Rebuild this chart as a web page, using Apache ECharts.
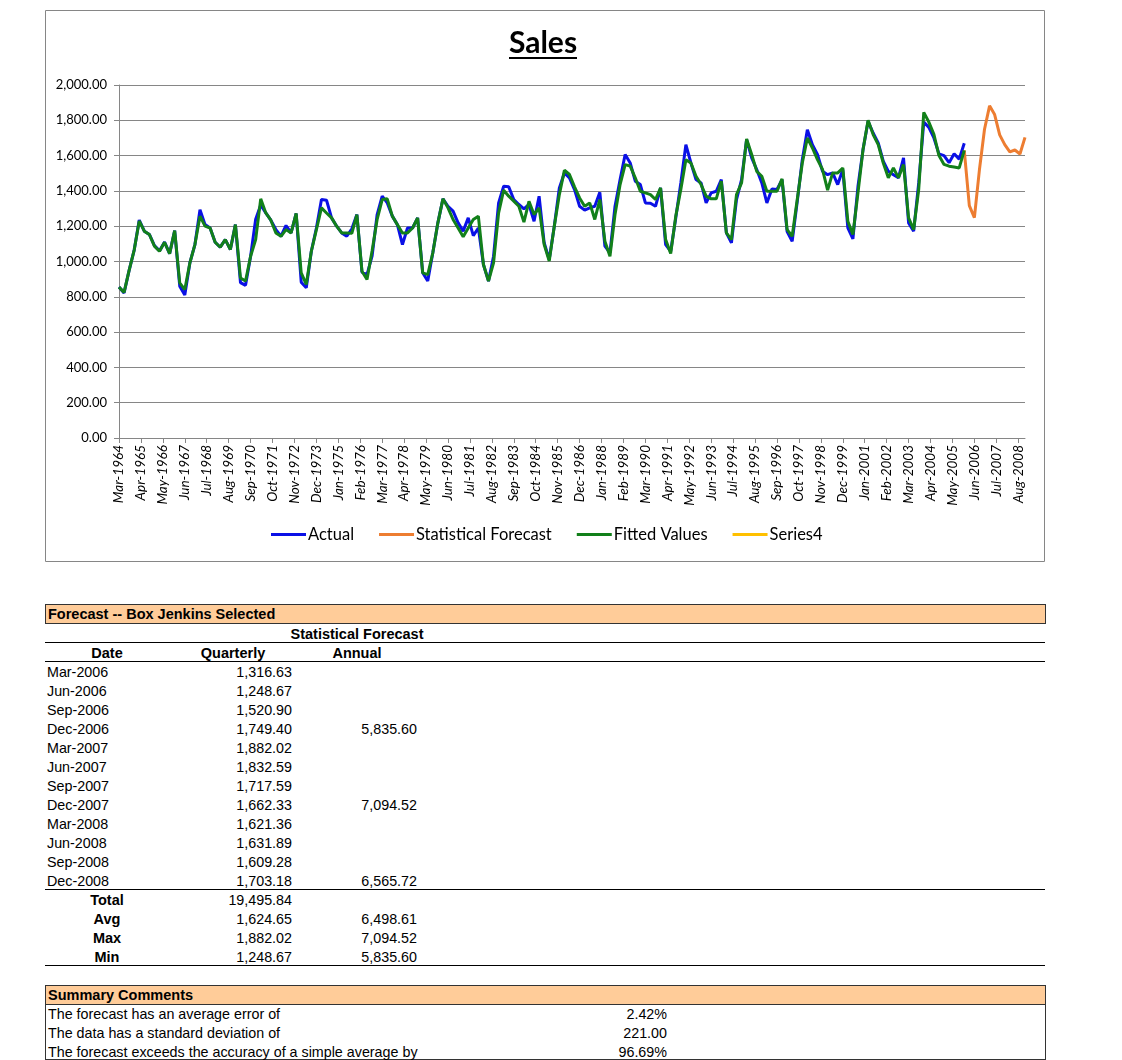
<!DOCTYPE html>
<html><head><meta charset="utf-8">
<script src="https://cdn.jsdelivr.net/npm/echarts@6/dist/echarts.min.js"></script>
<style>
html,body{margin:0;padding:0;background:#fff;}
body{width:1122px;height:1060px;overflow:hidden;position:relative;font-family:"Liberation Sans",Arial,sans-serif;font-size:14.3px;color:#000;}
#chart{position:absolute;left:0;top:0;width:1122px;height:570px;}
.t{position:absolute;height:19px;line-height:19px;white-space:nowrap;}
.b{font-weight:bold;font-size:14.5px;}
.hl{position:absolute;left:45px;width:1000px;height:1px;background:#000;}
</style>
</head><body>
<div id="chart"></div>
<div id="tbl"></div>
<script>
// ---------- DATA ----------
const actualStart = 'Mar-1964';
const axisEnd = 'Dec-2008';
const xTickLabels = ['Mar-1964','Apr-1965','May-1966','Jun-1967','Jul-1968','Aug-1969','Sep-1970','Oct-1971','Nov-1972','Dec-1973','Jan-1975','Feb-1976','Mar-1977','Apr-1978','May-1979','Jun-1980','Jul-1981','Aug-1982','Sep-1983','Oct-1984','Nov-1985','Dec-1986','Jan-1988','Feb-1989','Mar-1990','Apr-1991','May-1992','Jun-1993','Jul-1994','Aug-1995','Sep-1996','Oct-1997','Nov-1998','Dec-1999','Jan-2001','Feb-2002','Mar-2003','Apr-2004','May-2005','Jun-2006','Jul-2007','Aug-2008'];
const yTicks = [0,200,400,600,800,1000,1200,1400,1600,1800,2000];

// quarterly actuals, Mar-1964 .. Dec-2005
const actual = [855,822,950,1065,1235,1172,1153,1090,1060,1110,1045,1175,860,810,992,1096,1294,1209,1190,1109,
1081,1124,1068,1209,880,865,1030,1240,1320,1275,1234,1181,1143,1204,1162,1272,883,851,1058,1190,
1351,1347,1247,1200,1162,1143,1185,1266,940,926,1030,1266,1370,1332,1257,1209,1096,1190,1190,1247,
936,889,1049,1219,1355,1313,1285,1219,1172,1247,1147,1190,983,889,1030,1332,1426,1423,1351,1323,
1298,1323,1228,1370,1106,1011,1200,1417,1502,1474,1407,1313,1291,1304,1313,1392,1087,1049,1313,1464,
1606,1558,1455,1436,1332,1330,1313,1417,1096,1058,1247,1445,1662,1558,1464,1445,1332,1389,1398,1464,
1162,1106,1351,1464,1691,1587,1521,1445,1332,1411,1408,1464,1170,1115,1340,1577,1747,1662,1606,1511,
1492,1502,1436,1521,1190,1128,1426,1634,1794,1728,1672,1568,1511,1492,1474,1587,1219,1172,1445,1790,
1760,1700,1610,1600,1560,1610,1580,1670];

// fitted values, Mar-1964 .. Dec-2005
const fitted = [855,825,950,1065,1230,1172,1153,1087,1058,1109,1045,1175,879,841,992,1096,1257,1200,1190,1109,
1081,1124,1068,1209,907,889,1030,1124,1355,1275,1234,1162,1143,1181,1162,1272,936,870,1058,1180,
1304,1275,1247,1200,1162,1162,1160,1266,945,898,1060,1238,1351,1355,1257,1209,1162,1162,1190,1247,
936,926,1049,1219,1355,1304,1238,1190,1140,1190,1238,1257,983,889,992,1275,1404,1370,1342,1313,
1223,1341,1266,1304,1096,1002,1200,1379,1517,1493,1423,1360,1313,1332,1238,1351,1115,1030,1266,1436,
1549,1540,1474,1398,1389,1379,1351,1417,1124,1045,1257,1408,1577,1558,1483,1436,1370,1355,1355,1455,
1162,1124,1379,1445,1694,1606,1511,1483,1398,1398,1398,1468,1181,1143,1351,1558,1700,1643,1577,1521,
1404,1502,1502,1530,1228,1153,1389,1634,1800,1719,1662,1558,1474,1530,1474,1549,1247,1181,1408,1845,
1790,1720,1600,1550,1540,1535,1530,1630];

// statistical forecast (table)
const forecastDates = ['Mar-2006','Jun-2006','Sep-2006','Dec-2006','Mar-2007','Jun-2007','Sep-2007','Dec-2007','Mar-2008','Jun-2008','Sep-2008','Dec-2008'];
const forecastQuarterly = [1316.63,1248.67,1520.90,1749.40,1882.02,1832.59,1717.59,1662.33,1621.36,1631.89,1609.28,1703.18];
const forecastAnnual = [null,null,null,5835.60,null,null,null,7094.52,null,null,null,6565.72];
const statLabels = ['Total','Avg','Max','Min'];
const statQuarterly = [19495.84,1624.65,1882.02,1248.67];
const statAnnual = [null,6498.61,7094.52,5835.60];
const summaryTexts = ['The forecast has an average error of','The data has a standard deviation of','The forecast exceeds the accuracy of a simple average by'];
const summaryValues = ['2.42%','221.00','96.69%'];

// ---------- HELPERS ----------
const MONTHS=['Jan','Feb','Mar','Apr','May','Jun','Jul','Aug','Sep','Oct','Nov','Dec'];
const baseM = MONTHS.indexOf(actualStart.slice(0,3)), baseY = +actualStart.slice(4);
function mIdx(s){return (+s.slice(4)-baseY)*12 + MONTHS.indexOf(s.slice(0,3)) - baseM;}
function mLabel(m){const t=baseM+Math.round(m);return MONTHS[((t%12)+12)%12]+'-'+(baseY+Math.floor(t/12));}
function fmt(v){return v.toLocaleString('en-US',{minimumFractionDigits:2,maximumFractionDigits:2});}

const x0 = mIdx(actualStart);
const actualData = actual.map((v,i)=>[x0+3*i, v]);
const fittedData = fitted.map((v,i)=>[x0+3*i, v]);
const forecastData = [[x0+3*(fitted.length-1), fitted[fitted.length-1]]].concat(forecastDates.map((d,i)=>[mIdx(d), forecastQuarterly[i]]));
const tickVals = xTickLabels.map(mIdx);

// ---------- CHART ----------
const chart = echarts.init(document.getElementById('chart'), null, {renderer:'canvas'});
const AX = '#868686';
chart.setOption({
  animation:false,
  backgroundColor:'#fff',
  grid:{left:119, right:97, top:85, height:353, containLabel:false},
  legend:{
    left:266, top:521, itemWidth:35, itemHeight:3, itemGap:25, icon:'rect',
    textStyle:{fontFamily:'Lato', fontSize:16.5, color:'#000', padding:[0,0,0,-3]},
    data:['Actual','Statistical Forecast','Fitted Values','Series4']
  },
  xAxis:{
    type:'value', min:0, max:mIdx(axisEnd),
    axisLine:{show:true, lineStyle:{color:AX, width:1}},
    axisTick:{show:true, customValues:tickVals, length:5, inside:false, lineStyle:{color:AX}},
    axisLabel:{customValues:tickVals, rotate:90, margin:7, formatter:v=>mLabel(v),
      fontFamily:'Lato', fontStyle:'italic', fontSize:13.5, color:'#000'},
    splitLine:{show:false}
  },
  yAxis:{
    type:'value', min:yTicks[0], max:yTicks[yTicks.length-1], interval:200,
    axisLine:{show:true, lineStyle:{color:AX, width:1}},
    axisTick:{show:true, length:5, inside:false, lineStyle:{color:AX}},
    axisLabel:{margin:12, formatter:v=>fmt(v), fontFamily:'Lato', fontSize:13, color:'#000'},
    splitLine:{show:true, lineStyle:{color:AX, width:1}}
  },
  series:[
    {name:'Actual', type:'line', data:actualData, showSymbol:false, symbol:'none', lineStyle:{width:3, color:'#0A10E6'}, itemStyle:{color:'#0A10E6'}, z:2},
    {name:'Statistical Forecast', type:'line', data:forecastData, showSymbol:false, symbol:'none', lineStyle:{width:3, color:'#ED7D31'}, itemStyle:{color:'#ED7D31'}, z:3},
    {name:'Fitted Values', type:'line', data:fittedData, showSymbol:false, symbol:'none', lineStyle:{width:3, color:'#12801A'}, itemStyle:{color:'#12801A'}, z:4},
    {name:'Series4', type:'line', data:[], showSymbol:false, symbol:'none', lineStyle:{width:3, color:'#FFC000'}, itemStyle:{color:'#FFC000'}, z:5}
  ],
  graphic:[
    {type:'rect', silent:true, z:-1, shape:{x:45.5, y:10.5, width:999, height:551}, style:{fill:'none', stroke:AX, lineWidth:1}},
    {type:'text', silent:true, x:543, y:43, style:{text:'Sales', fontFamily:'Lato', fontWeight:'bold', fontSize:30, fill:'#000', align:'center', verticalAlign:'middle'}},
    {type:'line', silent:true, shape:{x1:509, y1:58, x2:577, y2:58}, style:{stroke:'#000', lineWidth:2}}
  ]
});

// ---------- TABLE ----------
const T = document.getElementById('tbl');
function txt(s, x, yc, align, bold){
  const d=document.createElement('div'); d.className='t'+(bold?' b':''); d.textContent=s;
  d.style.top=(yc-9.5)+'px';
  if(align==='left'){d.style.left=x+'px';}
  else if(align==='right'){d.style.right=(1122-x)+'px';d.style.textAlign='right';}
  else {d.style.left=(x-100)+'px';d.style.width='200px';d.style.textAlign='center';}
  T.appendChild(d);
}
function hline(y){const d=document.createElement('div');d.className='hl';d.style.top=y+'px';T.appendChild(d);}
function box(x,y,w,h,bg,border){const d=document.createElement('div');d.style.cssText='position:absolute;box-sizing:border-box;left:'+x+'px;top:'+y+'px;width:'+w+'px;height:'+h+'px;background:'+bg+';border:'+border+';';T.appendChild(d);return d;}

box(45,604,1001,20,'#FFCC99','1px solid #333');
txt('Forecast -- Box Jenkins Selected',48,614,'left',true);
txt('Statistical Forecast',357,634,'center',true);
hline(642);
txt('Date',107,653,'center',true);
txt('Quarterly',233,653,'center',true);
txt('Annual',357,653,'center',true);
hline(661);
forecastDates.forEach((d,i)=>{
  const y=672+19*i;
  txt(d,47,y,'left',false);
  txt(fmt(forecastQuarterly[i]),292,y,'right',false);
  if(forecastAnnual[i]!=null) txt(fmt(forecastAnnual[i]),417,y,'right',false);
});
hline(889);
statLabels.forEach((s,i)=>{
  const y=900+19*i;
  txt(s,107,y,'center',true);
  txt(fmt(statQuarterly[i]),292,y,'right',false);
  if(statAnnual[i]!=null) txt(fmt(statAnnual[i]),417,y,'right',false);
});
hline(965);
box(45,985,1001,75,'#fff','1px solid #333');
box(45,985,1001,20,'#FFCC99','1px solid #333');
txt('Summary Comments',48,995,'left',true);
summaryTexts.forEach((s,i)=>{
  const y=1014+19*i;
  txt(s,48,y,'left',false);
  txt(summaryValues[i],667,y,'right',false);
});
</script>
</body></html>
